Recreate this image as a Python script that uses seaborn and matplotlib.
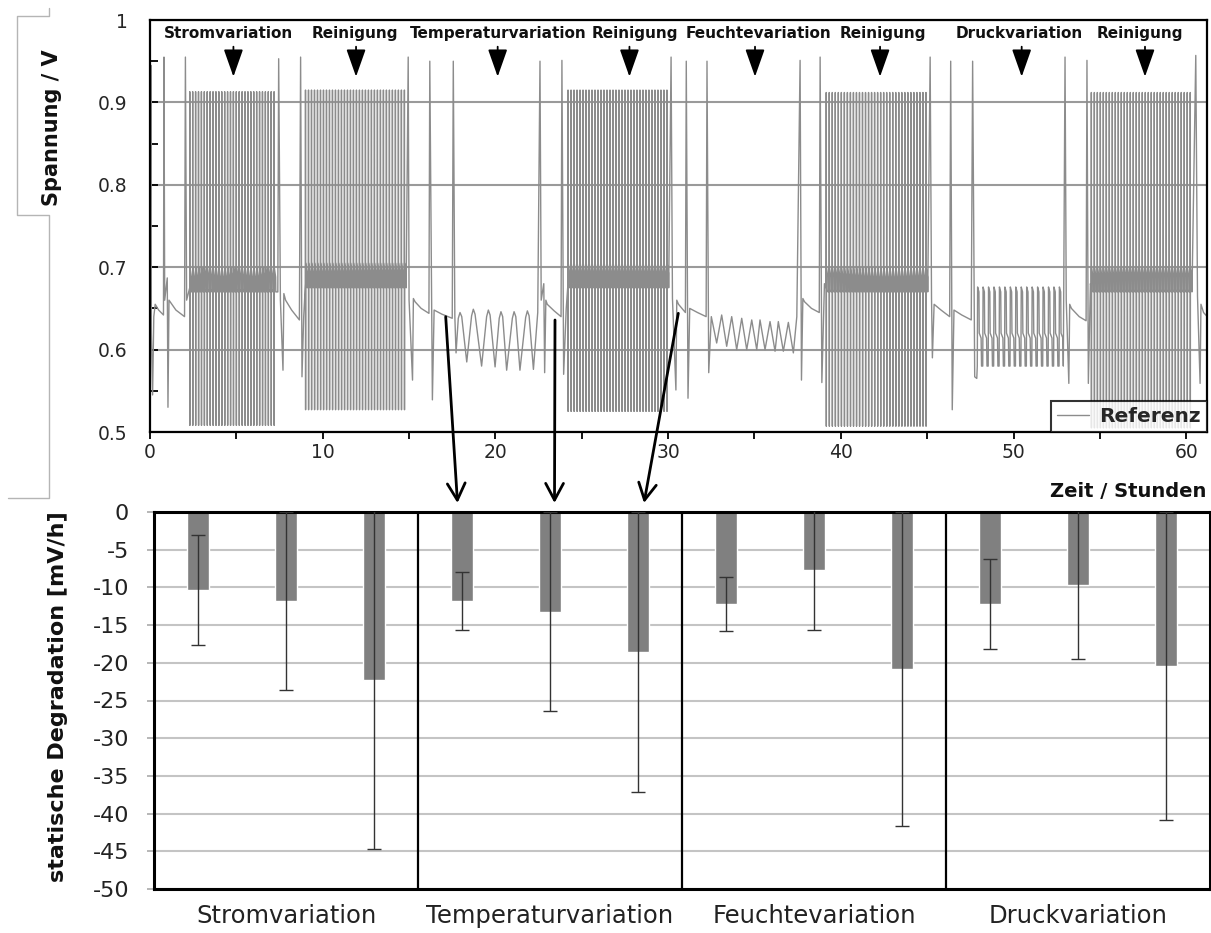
import numpy as np
import pandas as pd
import matplotlib
matplotlib.use("Agg")
import matplotlib.pyplot as plt
import seaborn as sns
from matplotlib.lines import Line2D
from matplotlib.patches import FancyArrowPatch

sns.set_theme(style="white")
plt.rcParams['font.family'] = ['DejaVu Sans']
plt.rcParams['axes.unicode_minus'] = False

# ---------------- data: top panel (voltage trace) ----------------
# reference / characterisation sections between the test blocks (time h, voltage V)
ref0_t = [0.00, 0.05, 0.08, 0.15, 0.22, 0.30, 0.50, 0.78, 0.81, 0.85, 1.00, 1.04, 1.10, 1.50, 2.00, 2.05, 2.12]
ref0_v = [0.650, 0.945, 0.620, 0.545, 0.640, 0.655, 0.648, 0.642, 0.955, 0.660, 0.687, 0.530, 0.660, 0.648, 0.640, 0.955, 0.660]
ref1_t = [7.40, 7.45, 7.55, 7.70, 7.75, 7.85, 8.20, 8.65, 8.72, 8.80, 8.90]
ref1_v = [0.670, 0.953, 0.660, 0.575, 0.668, 0.660, 0.648, 0.636, 0.955, 0.567, 0.640]
ref2_t = [14.95, 15.00, 15.20, 15.25, 15.35, 15.70, 16.15, 16.20, 16.35, 16.45, 16.90, 17.50, 17.56, 17.65]
ref2_v = [0.955, 0.660, 0.563, 0.662, 0.658, 0.650, 0.644, 0.950, 0.539, 0.648, 0.643, 0.638, 0.950, 0.640]
ref3_t = [22.45, 22.58, 22.65, 22.80, 22.85, 22.92, 23.00, 23.40, 23.80, 23.85, 23.95, 24.10]
ref3_v = [0.645, 0.950, 0.660, 0.680, 0.572, 0.660, 0.655, 0.647, 0.640, 0.951, 0.570, 0.650]
ref4_t = [30.17, 30.25, 30.45, 30.50, 30.60, 31.00, 31.05, 31.15, 31.25, 31.70, 32.20, 32.25, 32.35]
ref4_v = [0.955, 0.662, 0.551, 0.660, 0.655, 0.645, 0.950, 0.541, 0.650, 0.645, 0.640, 0.950, 0.572]
ref5_t = [37.64, 37.70, 37.72, 37.80, 37.90, 38.30, 38.75, 38.80, 38.90, 39.05]
ref5_v = [0.951, 0.664, 0.563, 0.662, 0.658, 0.650, 0.645, 0.955, 0.560, 0.680]
ref6_t = [45.17, 45.25, 45.30, 45.40, 45.80, 46.30, 46.36, 46.45, 46.55, 47.00, 47.55, 47.63, 47.75, 47.87]
ref6_v = [0.955, 0.662, 0.590, 0.655, 0.648, 0.640, 0.950, 0.527, 0.648, 0.642, 0.636, 0.950, 0.567, 0.565]
ref7_t = [52.98, 53.05, 53.20, 53.25, 53.35, 53.80, 54.20, 54.25, 54.33, 54.45]
ref7_v = [0.955, 0.660, 0.559, 0.655, 0.650, 0.640, 0.635, 0.951, 0.559, 0.680]
ref8_t = [60.55, 60.65, 60.80, 60.85, 61.00, 61.30]
ref8_v = [0.957, 0.665, 0.559, 0.655, 0.645, 0.638]

# temperature variation (rounded peaks / sharp troughs)
temp_t = [17.72, 17.85, 17.95, 18.05, 18.34, 18.62, 18.72, 18.82, 19.20, 19.49, 19.59, 19.69,
          19.98, 20.22, 20.32, 20.42, 20.65, 20.98, 21.08, 21.18, 21.42, 21.75, 21.85, 21.95, 22.20]
temp_v = [0.596, 0.638, 0.645, 0.640, 0.585, 0.641, 0.649, 0.643, 0.580, 0.640, 0.648, 0.642,
          0.579, 0.638, 0.646, 0.640, 0.575, 0.638, 0.646, 0.640, 0.575, 0.639, 0.647, 0.641, 0.576]
# humidity variation (peaks / troughs)
hum_t = [32.50, 32.81, 33.10, 33.39, 33.68, 33.97, 34.26, 34.55, 34.84, 35.13, 35.32, 35.61,
         35.90, 36.19, 36.38, 36.67, 36.96, 37.25, 37.45]
hum_v = [0.640, 0.608, 0.642, 0.604, 0.640, 0.600, 0.638, 0.600, 0.636, 0.600, 0.636, 0.600,
         0.634, 0.598, 0.634, 0.598, 0.633, 0.596, 0.640]

# current variation / cleaning blocks (dense load cycling)
block_start = [2.30, 9.00, 24.20, 39.15, 54.50]
block_end = [7.35, 14.90, 30.10, 45.10, 60.40]
block_cycles = [30, 34, 34, 34, 34]
block_top = [0.913, 0.915, 0.915, 0.912, 0.912]
block_bottom = [0.508, 0.527, 0.525, 0.507, 0.505]
block_band_hi = [0.700, 0.705, 0.705, 0.700, 0.700]
block_band_lo = [0.670, 0.675, 0.675, 0.670, 0.670]

# pressure variation block
press_start, press_end, press_cycles = 47.90, 52.95, 16
press_top, press_mid, press_bottom = 0.676, 0.620, 0.580

# ---------------- data: bottom panel ----------------
group_names = ['Stromvariation', 'Temperaturvariation', 'Feuchtevariation', 'Druckvariation']
bar_values = [-10.4, -11.8, -22.3, -11.8, -13.2, -18.6, -12.2, -7.7, -20.8, -12.2, -9.7, -20.4]
bar_errors = [7.3, 11.8, 22.4, 3.85, 13.2, 18.6, 3.6, 8.0, 20.8, 6.0, 9.8, 20.4]
bar_ids = [f"b{i}" for i in range(len(bar_values))]

ann_labels = ['Stromvariation', 'Reinigung', 'Temperaturvariation', 'Reinigung',
              'Feuchtevariation', 'Reinigung', 'Druckvariation', 'Reinigung']
ann_label_x = [4.52, 11.85, 20.18, 28.08, 35.22, 42.46, 50.33, 57.32]
ann_arrow_x = [4.83, 11.93, 20.13, 27.76, 35.03, 42.27, 50.47, 57.61]


# ---------------- build the trace ----------------
def block_trace(t0, t1, n, top, bottom, hi, lo):
    p = (t1 - t0) / n
    ts, vs = [], []
    for k in range(n):
        s = t0 + k * p
        for ph, lv in zip([0.0, 0.02, 0.05, 0.08, 0.55, 0.60],
                          [lo + 0.005, top, bottom, hi, hi - 0.012, lo]):
            ts.append(s + ph * p)
            vs.append(lv)
    return ts, vs


def press_trace(t0, t1, n, top, mid, bottom):
    p = (t1 - t0) / n
    ts, vs = [], []
    for k in range(n):
        s = t0 + k * p
        for ph, lv in zip([0.0, 0.06, 0.30, 0.36, 0.70, 0.78],
                          [bottom, top, top - 0.006, mid, mid - 0.006, bottom]):
            ts.append(s + ph * p)
            vs.append(lv)
    return ts, vs


blocks = [block_trace(block_start[i], block_end[i], block_cycles[i], block_top[i],
                      block_bottom[i], block_band_hi[i], block_band_lo[i]) for i in range(5)]
press = press_trace(press_start, press_end, press_cycles, press_top, press_mid, press_bottom)

pieces = [(ref0_t, ref0_v), blocks[0], (ref1_t, ref1_v), blocks[1], (ref2_t, ref2_v),
          (temp_t, temp_v), (ref3_t, ref3_v), blocks[2], (ref4_t, ref4_v), (hum_t, hum_v),
          (ref5_t, ref5_v), blocks[3], (ref6_t, ref6_v), press, (ref7_t, ref7_v), blocks[4],
          (ref8_t, ref8_v)]
T, V = [], []
for pt, pv in pieces:
    T.extend(pt)
    V.extend(pv)
trace = pd.DataFrame({'Zeit': T, 'Spannung': V})
bars = pd.DataFrame({'id': bar_ids, 'val': bar_values})

# ---------------- figure ----------------
W, H = 1211, 933
fig = plt.figure(figsize=(W / 100, H / 100), dpi=100)
fx = lambda px: px / W
fy = lambda py: 1 - py / H

ax1 = fig.add_axes([fx(150), fy(432), fx(1207) - fx(150), fy(20) - fy(432)])
ax2 = fig.add_axes([fx(154), fy(889), fx(1210) - fx(154), fy(512) - fy(889)])

# --- top panel ---
line_gray = '#8c8c8c'
sns.lineplot(data=trace, x='Zeit', y='Spannung', ax=ax1, sort=False, estimator=None,
             color=line_gray, linewidth=1.0, label='Referenz')
ax1.set_xlim(0, 61.2)
ax1.set_ylim(0.5, 1.0)
ax1.set_xlabel('')
ax1.set_ylabel('')
ax1.set_yticks([0.5, 0.6, 0.7, 0.8, 0.9, 1.0])
ax1.set_yticklabels(['0.5', '0.6', '0.7', '0.8', '0.9', '1'])
ax1.set_yticks([0.55, 0.65, 0.75, 0.85, 0.95], minor=True)
ax1.set_xticks([0, 10, 20, 30, 40, 50, 60])
ax1.set_xticks([5, 15, 25, 35, 45, 55], minor=True)
ax1.tick_params(axis='y', which='both', direction='in', length=6, width=1.3, color='black',
                labelsize=13.5, pad=16, left=True)
ax1.tick_params(axis='x', which='both', direction='out', length=5, width=1.3, color='black',
                labelsize=13.5, pad=3, bottom=True)
for s in ax1.spines.values():
    s.set_color('black')
    s.set_linewidth(1.6)
ax1.yaxis.grid(True, which='major', color='#9a9a9a', linewidth=1.5)
ax1.xaxis.grid(False)
ax1.set_axisbelow(True)

leg = ax1.legend(loc='lower right', borderaxespad=0, frameon=True, fancybox=False,
                 handlelength=1.6, handletextpad=0.5, borderpad=0.3,
                 prop={'weight': 'bold', 'size': 14.5})
leg.get_frame().set_edgecolor('black')
leg.get_frame().set_linewidth(1.5)

for lab, lx in zip(ann_labels, ann_label_x):
    ax1.text(lx, 0.9842, lab, ha='center', va='center', fontsize=11, fontweight='bold',
             color='#111111')
for axx in ann_arrow_x:
    ax1.annotate('', xy=(axx, 0.9312), xytext=(axx, 0.9676),
                 arrowprops=dict(arrowstyle='-|>,head_length=0.85,head_width=0.3',
                                 mutation_scale=20, color='black', lw=1.3,
                                 shrinkA=0, shrinkB=0))

# --- bottom panel ---
sns.barplot(data=bars, x='id', y='val', order=bar_ids, ax=ax2, color='#808080',
            saturation=1, width=0.25, errorbar=None)
ax2.errorbar(np.arange(len(bar_values)), bar_values, yerr=bar_errors, fmt='none',
             ecolor='#333333', elinewidth=1.0, capsize=5, capthick=1.0, zorder=4)
ax2.set_xlim(-0.5, len(bar_values) - 0.5)
ax2.set_ylim(-50, 0)
ax2.set_yticks(np.arange(-50, 1, 5))
ax2.set_yticklabels([str(v) for v in range(-50, 1, 5)])
ax2.set_xticks([1, 4, 7, 10])
ax2.set_xticklabels(group_names)
ax2.set_xlabel('')
ax2.set_ylabel('')
ax2.tick_params(axis='y', direction='out', length=5, width=1.2, color='#aaaaaa',
                labelsize=16, pad=13, left=True, labelcolor='#222222')
ax2.tick_params(axis='x', length=0, labelsize=17.5, pad=11, labelcolor='#222222')
ax2.yaxis.grid(True, color='#c4c4c4', linewidth=1.5)
ax2.set_axisbelow(True)
for xs in [2.5, 5.5, 8.5]:
    ax2.axvline(xs, color='black', linewidth=1.6, zorder=3)
for s in ax2.spines.values():
    s.set_color('black')
    s.set_linewidth(2.2)

# --- figure texts ---
fig.text(fx(52), fy(128), 'Spannung / V', rotation=90, ha='center', va='center',
         fontsize=15, fontweight='bold', color='#111111')
fig.text(fx(58), fy(697), 'statische Degradation [mV/h]', rotation=90, ha='center',
         va='center', fontsize=16, fontweight='bold', color='#111111')
fig.text(fx(1206), fy(492), 'Zeit / Stunden', ha='right', va='center', fontsize=14,
         fontweight='bold', color='#111111')

# label box remnant
box_x = [49, 49, 17, 17, 49, 49, 8]
box_y = [8, 16, 16, 215, 215, 498, 498]
fig.add_artist(Line2D([fx(v) for v in box_x], [fy(v) for v in box_y],
                      transform=fig.transFigure, color='#b5b5b5', linewidth=1.0))

# connecting arrows from the trace to the bars
for (xa, ya), (xb, yb) in [((445.7, 316.7), (457.5, 503)),
                           ((555.0, 320.0), (554.5, 503)),
                           ((678.3, 313.3), (644.0, 503))]:
    fig.add_artist(FancyArrowPatch((fx(xa), fy(ya)), (fx(xb), fy(yb)),
                                   transform=fig.transFigure,
                                   arrowstyle='->,head_length=0.6,head_width=0.32',
                                   mutation_scale=20, color='black', linewidth=2.0,
                                   shrinkA=0, shrinkB=0))

fig.savefig('out.png', dpi=100)
